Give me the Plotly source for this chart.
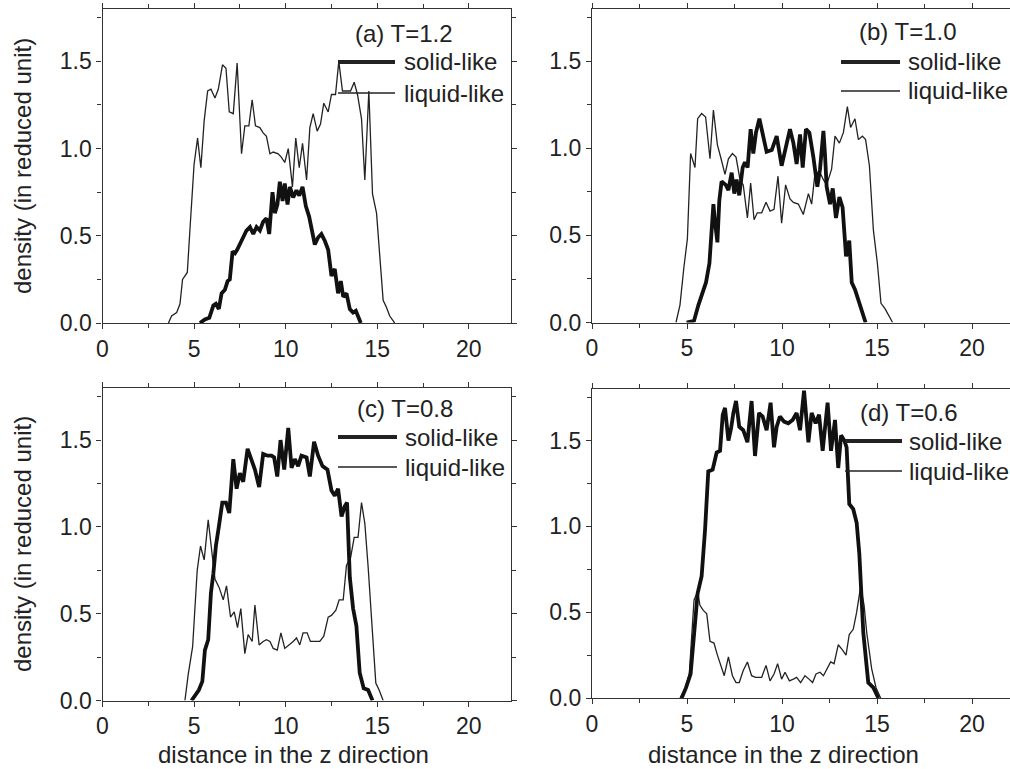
import plotly.graph_objects as go

# ---------------- data ----------------
a_liq_x = [3.6, 3.77, 4.05, 4.23, 4.37, 4.63, 4.77, 5.0, 5.19, 5.37, 5.55, 5.74, 5.92, 6.14, 6.32, 6.55, 6.74, 6.92, 7.14, 7.35,
           7.59, 7.77, 7.99, 8.17, 8.35, 8.59, 8.77, 8.95, 9.14, 9.32, 9.59, 9.77, 9.95, 10.14, 10.37, 10.55, 10.74, 10.92, 11.14, 11.32,
           11.5, 11.72, 11.9, 12.08, 12.32, 12.5, 12.72, 12.9, 13.1, 13.32, 13.54, 13.74, 13.92, 14.14, 14.32, 14.54, 14.74, 14.96, 15.14, 15.32,
           15.5, 15.68, 15.95]
a_liq_y = [0, 0.04, 0.06, 0.11, 0.25, 0.29, 0.53, 0.91, 1.06, 0.89, 1.16, 1.33, 1.34, 1.29, 1.34, 1.48, 1.46, 1.21, 1.20, 1.49,
           0.97, 1.13, 1.13, 1.28, 1.13, 1.12, 1.09, 1.07, 0.97, 0.98, 0.97, 0.95, 0.92, 1.0, 0.78, 1.06, 0.89, 1.03, 0.82, 1.12,
           1.2, 1.1, 1.14, 1.26, 1.21, 1.31, 1.31, 1.50, 1.33, 1.33, 1.33, 1.38, 1.31, 1.17, 0.82, 1.33, 0.74, 0.63, 0.38, 0.13,
           0.09, 0.04, 0]
a_sol_x = [5.32, 5.59, 5.83, 6.05, 6.19, 6.35, 6.5, 6.68, 6.83, 6.95, 7.1, 7.23, 7.35, 7.5, 7.68, 7.86, 8.05, 8.23, 8.41, 8.59,
           8.77, 8.95, 9.1, 9.28, 9.41, 9.55, 9.68, 9.83, 9.95, 10.1, 10.23, 10.41, 10.59, 10.74, 10.92, 11.1, 11.28, 11.46, 11.59, 11.77,
           11.95, 12.14, 12.32, 12.5, 12.68, 12.86, 13.01, 13.14, 13.32, 13.5, 13.68, 13.83, 14.01, 14.1]
a_sol_y = [0, 0.02, 0.03, 0.10, 0.11, 0.08, 0.17, 0.19, 0.24, 0.25, 0.41, 0.40, 0.42, 0.45, 0.49, 0.53, 0.55, 0.51, 0.55, 0.53,
           0.58, 0.60, 0.51, 0.75, 0.63, 0.68, 0.81, 0.70, 0.80, 0.68, 0.78, 0.72, 0.76, 0.73, 0.78, 0.67, 0.61, 0.53, 0.45, 0.49,
           0.51, 0.47, 0.42, 0.27, 0.31, 0.17, 0.24, 0.15, 0.17, 0.08, 0.06, 0.07, 0.02, 0]

b_liq_x = [4.42, 4.63, 4.84, 5.02, 5.19, 5.42, 5.56, 5.77, 5.98, 6.21, 6.39, 6.6, 6.77, 7.0, 7.18, 7.39, 7.58, 7.79, 7.96, 8.18,
           8.35, 8.53, 8.7, 8.93, 9.16, 9.37, 9.58, 9.79, 9.98, 10.19, 10.42, 10.6, 10.86, 11.12, 11.39, 11.56, 11.74, 12.0, 12.18, 12.35,
           12.61, 12.79, 13.02, 13.23, 13.44, 13.61, 13.84, 14.02, 14.23, 14.4, 14.6, 14.81, 15.02, 15.21, 15.42, 15.65, 15.82]
b_liq_y = [0, 0.10, 0.32, 0.48, 0.97, 0.89, 1.17, 1.20, 1.18, 0.94, 1.22, 1.02, 0.95, 0.85, 0.94, 0.97, 0.95, 0.82, 0.79, 0.60,
           0.80, 0.59, 0.63, 0.63, 0.69, 0.64, 0.65, 0.84, 0.57, 0.79, 0.71, 0.69, 0.68, 0.62, 0.74, 0.68, 0.86, 0.86, 0.82, 0.79,
           0.88, 1.07, 1.03, 1.09, 1.24, 1.12, 1.17, 1.05, 1.07, 1.05, 0.90, 0.53, 0.34, 0.11, 0.08, 0.03, 0]
b_sol_x = [4.98, 5.37, 5.6, 5.81, 6.0, 6.18, 6.3, 6.39, 6.47, 6.6, 6.7, 6.82, 7.04, 7.18, 7.35, 7.49, 7.61, 7.75, 7.93, 8.05,
           8.19, 8.35, 8.49, 8.63, 8.81, 8.96, 9.19, 9.46, 9.72, 9.98, 10.19, 10.42, 10.6, 10.77, 10.95, 11.09, 11.26, 11.44, 11.65, 11.86,
           12.0, 12.18, 12.26, 12.35, 12.53, 12.67, 12.84, 13.02, 13.19, 13.37, 13.54, 13.67, 13.84, 14.02, 14.19, 14.4]
b_sol_y = [0, 0.01, 0.10, 0.17, 0.23, 0.34, 0.51, 0.68, 0.58, 0.46, 0.70, 0.81, 0.79, 0.76, 0.86, 0.74, 0.82, 0.73, 0.89, 0.92,
           0.89, 1.11, 0.97, 1.09, 1.17, 1.09, 0.98, 0.99, 1.07, 0.90, 1.00, 1.11, 1.03, 0.91, 1.08, 0.89, 1.11, 1.09, 0.95, 0.78,
           0.88, 1.10, 0.97, 0.78, 0.68, 0.77, 0.60, 0.72, 0.66, 0.38, 0.47, 0.23, 0.19, 0.13, 0.06, 0]

c_liq_x = [4.5, 4.68, 4.92, 5.17, 5.35, 5.55, 5.77, 5.95, 6.14, 6.37, 6.59, 6.77, 6.99, 7.19, 7.37, 7.55, 7.77, 7.95, 8.17, 8.32,
           8.55, 8.77, 8.95, 9.14, 9.32, 9.54, 9.74, 9.95, 10.19, 10.41, 10.59, 10.77, 10.95, 11.17, 11.35, 11.59, 11.86, 12.08, 12.32, 12.5,
           12.74, 12.92, 13.14, 13.32, 13.54, 13.74, 13.95, 14.14, 14.32, 14.5, 14.74, 14.92, 15.1, 15.32]
c_liq_y = [0, 0.15, 0.31, 0.75, 0.89, 0.81, 1.04, 0.87, 0.70, 0.65, 0.58, 0.66, 0.48, 0.51, 0.42, 0.53, 0.27, 0.38, 0.34, 0.55,
           0.32, 0.34, 0.35, 0.34, 0.30, 0.29, 0.39, 0.30, 0.32, 0.34, 0.36, 0.32, 0.39, 0.39, 0.34, 0.34, 0.34, 0.37, 0.48, 0.49,
           0.52, 0.58, 0.58, 0.78, 0.82, 0.94, 0.94, 1.14, 1.02, 0.77, 0.39, 0.10, 0.06, 0]
c_sol_x = [4.86, 5.05, 5.26, 5.45, 5.59, 5.77, 5.92, 6.05, 6.19, 6.35, 6.54, 6.74, 6.92, 7.14, 7.32, 7.5, 7.68, 7.92, 8.1, 8.32,
           8.55, 8.77, 9.01, 9.23, 9.37, 9.54, 9.72, 9.92, 10.14, 10.32, 10.5, 10.68, 10.86, 11.14, 11.32, 11.55, 11.77, 12.01, 12.28, 12.5,
           12.68, 12.86, 13.05, 13.23, 13.35, 13.5, 13.68, 13.86, 14.04, 14.26, 14.5, 14.74]
c_sol_y = [0, 0.03, 0.06, 0.11, 0.29, 0.35, 0.62, 0.73, 0.89, 1.00, 1.14, 1.14, 1.08, 1.39, 1.22, 1.31, 1.26, 1.45, 1.39, 1.33,
           1.23, 1.42, 1.41, 1.41, 1.40, 1.29, 1.50, 1.33, 1.57, 1.34, 1.39, 1.35, 1.41, 1.40, 1.29, 1.49, 1.41, 1.35, 1.33, 1.21,
           1.18, 1.22, 1.06, 1.12, 1.14, 0.71, 0.53, 0.43, 0.16, 0.07, 0.06, 0]

d_liq_x = [4.63, 4.89, 5.12, 5.37, 5.56, 5.68, 5.86, 6.04, 6.21, 6.42, 6.6, 6.77, 6.96, 7.18, 7.39, 7.58, 7.75, 7.96, 8.18, 8.4,
           8.61, 8.93, 9.16, 9.37, 9.58, 9.77, 9.98, 10.16, 10.39, 10.6, 10.77, 10.98, 11.21, 11.42, 11.61, 11.79, 12.0, 12.18, 12.35, 12.56,
           12.74, 12.96, 13.18, 13.37, 13.54, 13.75, 13.93, 14.14, 14.32, 14.46, 14.72, 14.95, 15.19]
d_liq_y = [0, 0.05, 0.14, 0.57, 0.62, 0.54, 0.51, 0.49, 0.33, 0.32, 0.25, 0.19, 0.13, 0.24, 0.13, 0.09, 0.09, 0.16, 0.21, 0.13,
           0.12, 0.12, 0.19, 0.10, 0.14, 0.20, 0.11, 0.15, 0.10, 0.11, 0.12, 0.09, 0.13, 0.11, 0.09, 0.14, 0.15, 0.13, 0.17, 0.21,
           0.20, 0.31, 0.28, 0.25, 0.37, 0.40, 0.50, 0.65, 0.54, 0.38, 0.17, 0.06, 0]
d_sol_x = [4.72, 4.95, 5.19, 5.37, 5.56, 5.77, 5.95, 6.12, 6.35, 6.56, 6.74, 6.88, 7.0, 7.18, 7.32, 7.44, 7.58, 7.75, 7.96, 8.18,
           8.4, 8.58, 8.79, 8.98, 9.19, 9.4, 9.58, 9.72, 9.89, 10.11, 10.33, 10.56, 10.77, 10.95, 11.16, 11.39, 11.56, 11.77, 11.95, 12.14,
           12.4, 12.58, 12.79, 12.96, 13.11, 13.28, 13.4, 13.54, 13.75, 13.93, 14.07, 14.28, 14.54, 14.81, 15.07]
d_sol_y = [0, 0.06, 0.14, 0.36, 0.61, 0.71, 0.98, 1.32, 1.33, 1.43, 1.44, 1.65, 1.69, 1.50, 1.57, 1.66, 1.73, 1.58, 1.56, 1.49,
           1.73, 1.41, 1.66, 1.64, 1.56, 1.72, 1.46, 1.58, 1.64, 1.61, 1.60, 1.62, 1.66, 1.56, 1.79, 1.49, 1.66, 1.60, 1.65, 1.44,
           1.72, 1.44, 1.62, 1.34, 1.53, 1.50, 1.46, 1.13, 1.10, 1.02, 0.84, 0.38, 0.09, 0.06, 0]

panel_titles = ["(a) T=1.2", "(b) T=1.0", "(c) T=0.8", "(d) T=0.6"]
series_names = ["solid-like", "liquid-like"]
x_ticks = [0, 5, 10, 15, 20]
y_ticks = [0.0, 0.5, 1.0, 1.5]
x_title = "distance in the z direction"
y_title = "density (in reduced unit)"

# ---------------- layout helpers ----------------
W, H = 1010, 769
def px(x):
    return x / W
def py(y):
    return 1 - y / H

INK = "#222222"
FONT = "Liberation Sans, Arial, sans-serif"

panels = [
    dict(liq=(a_liq_x, a_liq_y), sol=(a_sol_x, a_sol_y), xdom=(102.5, 511), ydom=(323, 9), xmax=22.3, mirror_y=True,
         title=(404, 33), leg_x=(338, 395, 402), leg_y=(62, 93)),
    dict(liq=(b_liq_x, b_liq_y), sol=(b_sol_x, b_sol_y), xdom=(592, 1010), ydom=(322.5, 9), xmax=22.0, mirror_y=False,
         title=(908, 32), leg_x=(841, 900, 906), leg_y=(62, 91)),
    dict(liq=(c_liq_x, c_liq_y), sol=(c_sol_x, c_sol_y), xdom=(102.5, 511), ydom=(700.5, 388), xmax=22.3, mirror_y=True,
         title=(405, 408), leg_x=(338, 397, 403), leg_y=(437, 467)),
    dict(liq=(d_liq_x, d_liq_y), sol=(d_sol_x, d_sol_y), xdom=(592, 1010), ydom=(698, 389), xmax=22.0, mirror_y=False,
         title=(909, 412), leg_x=(845, 902, 907), leg_y=(441, 471)),
]

fig = go.Figure()
layout = dict(
    width=W, height=H, margin=dict(l=0, r=0, t=0, b=0, pad=0, autoexpand=False),
    paper_bgcolor="white", plot_bgcolor="white", showlegend=False,
    font=dict(family=FONT, color=INK),
)
shapes = []
annotations = []

for i, p in enumerate(panels):
    n = "" if i == 0 else str(i + 1)
    xa, ya = "x" + n, "y" + n
    fig.add_trace(go.Scatter(x=p["liq"][0], y=p["liq"][1], mode="lines", xaxis=xa, yaxis=ya,
                             line=dict(color=INK, width=1.3), name=series_names[1]))
    fig.add_trace(go.Scatter(x=p["sol"][0], y=p["sol"][1], mode="lines", xaxis=xa, yaxis=ya,
                             line=dict(color="#111111", width=3.8), name=series_names[0]))
    layout["xaxis" + n] = dict(
        domain=[px(p["xdom"][0]), px(p["xdom"][1])], range=[0, p["xmax"]], anchor=ya, automargin=False,
        tickmode="array", tickvals=x_ticks, ticks="outside", ticklen=5, tickwidth=1, tickcolor="#333",
        minor=dict(ticks="outside", ticklen=4, dtick=2.5, tick0=0, tickcolor="#333", showgrid=False),
        showline=True, linecolor="#333", linewidth=1.2, mirror="ticks",
        showgrid=False, zeroline=False, tickfont=dict(size=23, color=INK, family=FONT),
    )
    layout["yaxis" + n] = dict(
        domain=[py(p["ydom"][0]), py(p["ydom"][1])], range=[0, 1.8], anchor=xa, automargin=False,
        tickmode="array", tickvals=y_ticks, tickformat=".1f", ticks="outside", ticklen=5, tickwidth=1, tickcolor="#333",
        minor=dict(ticks="outside", ticklen=4, dtick=0.25, tick0=0, tickcolor="#333", showgrid=False),
        showline=True, linecolor="#333", linewidth=1.2, mirror="ticks" if p["mirror_y"] else False,
        showgrid=False, zeroline=False, tickfont=dict(size=23, color=INK, family=FONT),
    )
    annotations.append(dict(text=panel_titles[i], x=px(p["title"][0]), y=py(p["title"][1]), xref="paper", yref="paper",
                            xanchor="center", yanchor="middle", showarrow=False, font=dict(size=24, color=INK)))
    x0, x1, xt = p["leg_x"]
    for k, (yy, wdt) in enumerate(zip(p["leg_y"], (4.2, 1.3))):
        shapes.append(dict(type="line", xref="paper", yref="paper", x0=px(x0), x1=px(x1), y0=py(yy), y1=py(yy),
                           line=dict(color=INK, width=wdt)))
        annotations.append(dict(text=series_names[k], x=px(xt), y=py(yy), xref="paper", yref="paper",
                                xanchor="left", yanchor="middle", showarrow=False, font=dict(size=24, color=INK)))

for yc in (166, 544):
    annotations.append(dict(text=y_title, x=px(22), y=py(yc), xref="paper", yref="paper", textangle=-90,
                            xanchor="center", yanchor="middle", showarrow=False, font=dict(size=24, color=INK)))
for xc in (293, 783):
    annotations.append(dict(text=x_title, x=px(xc), y=0, xref="paper", yref="paper",
                            xanchor="center", yanchor="bottom", borderpad=0, showarrow=False,
                            font=dict(size=24, color=INK)))

layout["shapes"] = shapes
layout["annotations"] = annotations
fig.update_layout(**layout)
fig.write_html("out.html")
